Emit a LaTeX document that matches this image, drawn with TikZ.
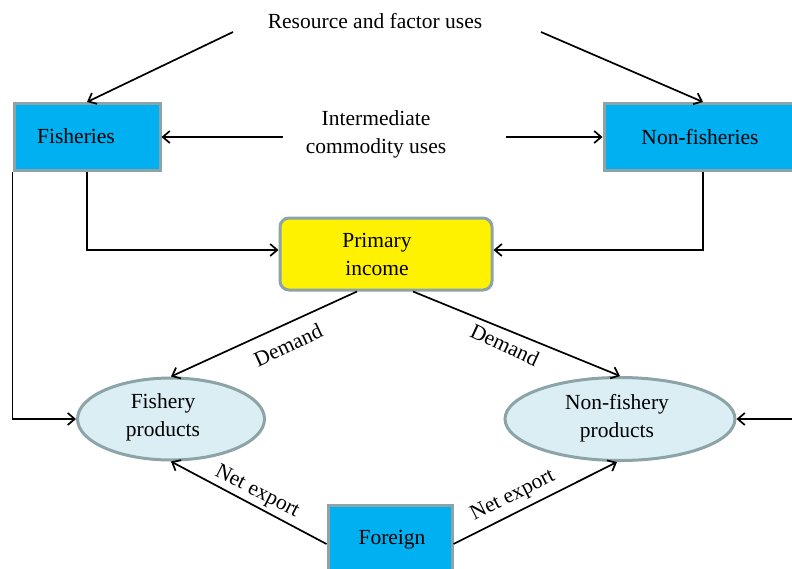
\documentclass[tikz,border=0pt]{standalone}
\usepackage{fontspec}
\setmainfont{Liberation Serif}
\newfontfamily\diagfont{Liberation Serif}
\usetikzlibrary{arrows.meta,shapes.geometric}
\definecolor{boxblue}{HTML}{00B0F0}
\definecolor{edgegray}{HTML}{8CA3A7}
\definecolor{ellfill}{HTML}{DAEEF3}
\begin{document}
\begin{tikzpicture}[x=1pt,y=-1pt,
  font=\diagfont\fontsize{21.5}{28}\selectfont,
  sector/.style={draw=edgegray, line width=3pt, fill=boxblue, minimum height=67pt, align=center, inner sep=0pt},
  income/.style={draw=edgegray, line width=3pt, fill=yellow, rounded corners=9pt, minimum width=212pt, minimum height=72pt, align=center, inner sep=0pt},
  good/.style={ellipse, draw=edgegray, line width=3pt, fill=ellfill, inner sep=0pt},
  lbl/.style={align=center, inner sep=0pt},
  flow/.style={line width=1.7pt, -{Straight Barb[length=7pt,width=12pt,line width=1.7pt]}}]
\useasboundingbox (0,0) rectangle (792,568);
\begin{scope}
\clip (0,0) rectangle (792,568);
\node[lbl] (res) at (375,21) {Resource and factor uses};
\node[sector, minimum width=146pt] (fish) at (87,137) {};
\node[lbl] at (76,136) {Fisheries};
\node[sector, minimum width=192pt] (nonfish) at (700,137) {Non-fisheries};
\node[lbl] (inter) at (376,134) {Intermediate\\commodity uses};
\node[income] (pi) at (386,254) {};
\node[lbl] at (377,254) {Primary\\income};
\node[good, minimum width=187pt, minimum height=82pt] (fp) at (171,419) {};
\node[lbl] at (163,417) {Fishery\\products};
\node[good, minimum width=230pt, minimum height=83pt] (np) at (620,419) {};
\node[lbl] at (617,418) {Non-fishery\\products};
\node[sector, minimum width=124pt, minimum height=72pt] (foreign) at (390,541) {};
\node[lbl] at (392,540) {Foreign};

\coordinate (r1) at (233,32);
\coordinate (r2) at (541,32);
\coordinate (i1) at (283,137);
\coordinate (i2) at (506,137);
\coordinate (rightin) at (800,419);

\draw[flow] (r1) -- (fish.north);
\draw[flow] (r2) -- ([xshift=3pt]nonfish.north);
\draw[flow] (i1) -- (fish.east);
\draw[flow] (i2) -- (nonfish.west);
\draw[flow] (fish.south) |- ([yshift=4pt]pi.west);
\draw[flow] ([xshift=3pt]nonfish.south) |- ([yshift=4pt]pi.east);
\draw[flow] (fish.south west) |- (fp.west);
\draw[flow] ([xshift=-29pt]pi.south) -- (fp.north);
\draw[flow] ([xshift=27pt]pi.south) -- (np.north);
\draw[flow] ([yshift=-3pt]foreign.west) -- (fp.south);
\draw[flow] ([yshift=-3pt]foreign.east) -- ([xshift=-3pt]np.south);
\draw[flow] (rightin) -- (np.east);

\node[lbl, rotate=25] at (288,345) {Demand};
\node[lbl, rotate=-25] at (505,345) {Demand};
\node[lbl, rotate=-27] at (257,492) {Net export};
\node[lbl, rotate=27] at (513,496) {Net export};
\end{scope}
\end{tikzpicture}
\end{document}
